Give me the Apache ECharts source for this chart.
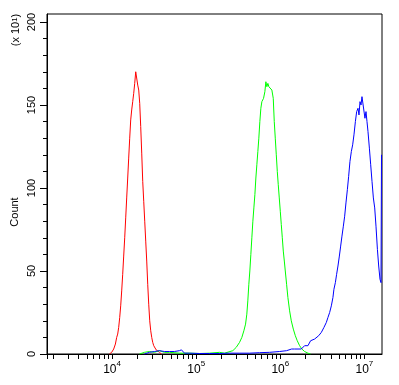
<!DOCTYPE html>
<html>
<head>
<meta charset="utf-8">
<script src="https://cdn.jsdelivr.net/npm/echarts@6/dist/echarts.min.js"></script>
<style>html,body{margin:0;padding:0;background:#fff;}#c{width:399px;height:385px;}</style>
</head>
<body>
<div id="c"></div>
<script>
// Axis range (fluorescence intensity, log scale) and count range (x10^1)
const xRange = [1683, 16200000];
const yRange = [0, 204.8];
const xMajorTicks = [1e4, 1e5, 1e6, 1e7];
const xMinorTicks = [2000,3000,4000,5000,6000,7000,8000,9000,
  20000,30000,40000,50000,60000,70000,80000,90000,
  200000,300000,400000,500000,600000,700000,800000,900000,
  2000000,3000000,4000000,5000000,6000000,7000000,8000000,9000000];
const yMajorTicks = [0, 50, 100, 150, 200];
const yMinorTicks = [10,20,30,40,60,70,80,90,110,120,130,140,160,170,180,190];

// Red histogram
const redX = [9290,9890,10450,10950,11340,11660,11980,12320,12660,13010,13370,13740,14130,14520,14920,15340,15760,16200,16650,17110,17590,18080,18580,19100,19630,20180,20740,21310,21900,22510,23140,23780,24440,25120,25820,26530,27270,28030,28810,29610,30430,31280,32150,33410,34910,36570,38640];
const redY = [0,1,3,6,10,12,16,22,29,38,48,59,70,82,94,106,118,130,141,147,152,157,163,170,170,162,159,151,137,121,104,92,80,68,56,42,30,20,14,10,7,5,4,2.5,1.5,1,0];

// Green histogram
const greenX = [21130,24240,27800,31890,36570,41950,48090,63240,83180,109400,143900,189300,217300,272900,299200,327800,349100,369000,386400,400000,411200,422700,434500,446700,459200,472000,485200,498800,512400,526600,541200,555900,571500,587500,603900,632400,655600,673800,692500,711700,731500,760300,794300,825100,848100,871700,896300,921200,946200,972700,1000000,1028000,1057000,1086000,1117000,1147000,1189000,1232000,1291000,1352000,1429000,1510000,1592000,1698000,1807000,1945000,2132000,2295000];
const greenY = [0,1,1.5,1,2,1,1,0.5,0.5,0.3,0.5,1,0.5,2,4,7,10,14,18,24,32,42,50,60,70,80,88,96,106,114,122,130,140,148,152,154,158,164,161,163,161,161,159,154,140,130,120,110,102,94,86,78,70,62,56,50,42,34,26,20,15,11,8,5,3,1.5,0.5,0];

// Blue histogram
const blueX = [24240,27800,31890,36570,41950,48090,55150,63240,66830,72580,83180,109400,143900,189300,249200,327800,431000,567000,746000,981000,1189000,1363000,1479000,1778000,1945000,2132000,2295000,2559000,2858000,3076000,3304000,3528000,3687000,3864000,4046000,4227000,4345000,4519000,4677000,4851000,5041000,5224000,5412000,5623000,5828000,6039000,6275000,6501000,6738000,7001000,7256000,7517000,7816000,8094000,8395000,8629000,8872000,9120000,9364000,9623000,9886000,10160000,10450000,10740000,11040000,11470000,11890000,12320000,12790000,13270000,13740000,14290000,14800000,15340000,15760000,15980000];
const blueY = [0,1,1.5,2,1.5,1.5,1.5,2,2.5,0.5,0.5,0.3,0.3,0.3,0.5,0.5,0.5,0.8,1,1.5,2,3,3,3,5,5,8,9,11,13,16,19,22,25,29,34,39,43,48,53,59,65,71,77,83,91,99,107,116,122,126,132,140,146,148,144,152,150,155,156,156,142,146,140,134,124,114,104,94,88,77,63,53,45,43,120];

const L = Math.log10;
const pairs = (xs, ys) => xs.map((x, i) => [L(x), ys[i]]);
const FONT = 'Liberation Sans';

const chart = echarts.init(document.getElementById('c'), null, {renderer: 'canvas'});
const lineSeries = (data, color) => ({
  type: 'line', data: data, showSymbol: false, symbol: 'none',
  lineStyle: {color: color, width: 1}, animation: false, z: 3
});

chart.setOption({
  animation: false,
  backgroundColor: '#ffffff',
  grid: {left: 47, top: 14, width: 335, height: 340, show: true, borderColor: '#000', borderWidth: 1, backgroundColor: 'transparent'},
  xAxis: {
    type: 'value', min: L(xRange[0]), max: L(xRange[1]),
    splitLine: {show: false},
    axisLine: {show: true, lineStyle: {color: '#000', width: 1}},
    axisTick: {show: true, length: 5, lineStyle: {color: '#000'},
      customValues: [L(xRange[0])].concat(xMinorTicks.map(L), xMajorTicks.map(L))},
    axisLabel: {
      customValues: xMajorTicks.map(L), margin: 6,
      formatter: v => '{b|10}{sup|' + Math.round(v) + '}',
      rich: {
        b: {fontSize: 12, fontFamily: FONT, color: '#000', lineHeight: 16, verticalAlign: 'bottom'},
        sup: {fontSize: 8, fontFamily: FONT, color: '#000', lineHeight: 9, verticalAlign: 'top'}
      }
    }
  },
  yAxis: [{
    type: 'value', min: yRange[0], max: yRange[1], position: 'left',
    splitLine: {show: false},
    axisLine: {show: true, lineStyle: {color: '#000', width: 1}},
    axisTick: {show: true, length: 7, lineStyle: {color: '#000'}, customValues: yMajorTicks},
    axisLabel: {customValues: yMajorTicks, rotate: 90, margin: 10, fontSize: 11, fontFamily: FONT, color: '#000'}
  }, {
    type: 'value', min: yRange[0], max: yRange[1], position: 'right', offset: -335,
    splitLine: {show: false},
    axisLine: {show: false},
    axisTick: {show: true, inside: true, length: 4, lineStyle: {color: '#000'}, customValues: yMinorTicks},
    axisLabel: {show: false}
  }],
  graphic: [
    {type: 'text', x: 15, y: 212, rotation: Math.PI / 2,
      style: {text: 'Count', font: '11px "Liberation Sans"', fill: '#000', textAlign: 'center', textVerticalAlign: 'middle'}},
    {type: 'text', x: 16, y: 30, rotation: Math.PI / 2,
      style: {text: '(x 10{sup|1})', fill: '#000', textAlign: 'center', textVerticalAlign: 'middle',
        fontSize: 11, fontFamily: FONT,
        rich: {sup: {fontSize: 8, fontFamily: FONT, fill: '#000', verticalAlign: 'top', lineHeight: 8}}}}
  ],
  series: [
    lineSeries(pairs(redX, redY), '#ff0000'),
    lineSeries(pairs(greenX, greenY), '#00ff00'),
    lineSeries(pairs(blueX, blueY), '#0000ff')
  ]
});
</script>
</body>
</html>
